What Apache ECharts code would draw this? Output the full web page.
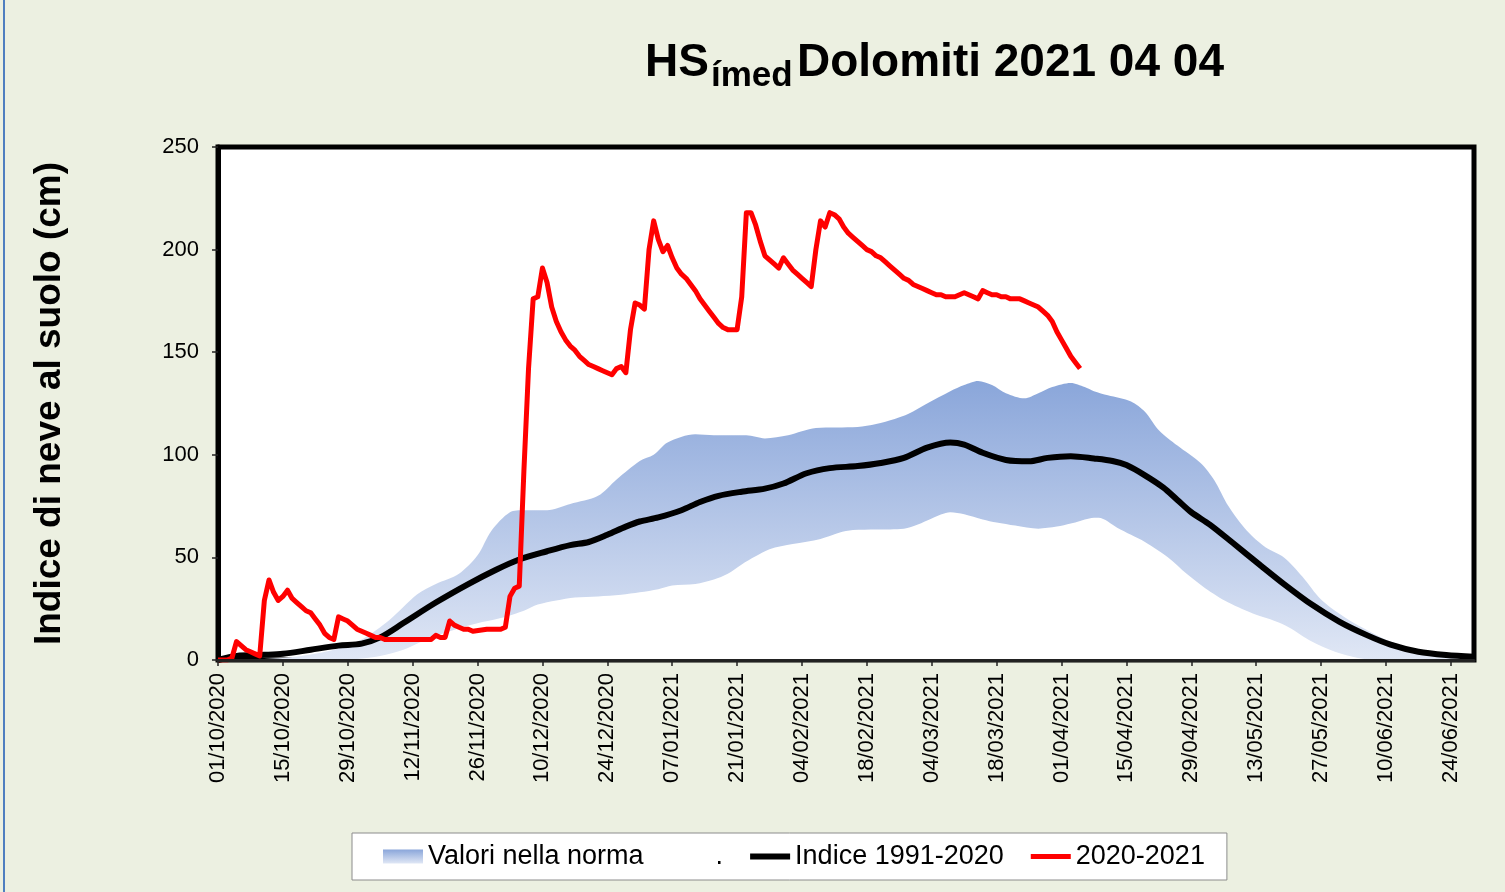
<!DOCTYPE html>
<html>
<head>
<meta charset="utf-8">
<script src="https://cdn.jsdelivr.net/npm/echarts/dist/echarts.min.js"></script>
<style>
  html, body { margin: 0; padding: 0; background: #ecf0e1; }
  #chart { width: 1505px; height: 892px; }
</style>
</head>
<body>
<div id="chart"></div>
<script>
// giorni dal 01/10/2020 (indice 0) fino al 29/06/2021 (indice 271)
const tickLabels = [
  "01/10/2020", "15/10/2020", "29/10/2020", "12/11/2020", "26/11/2020",
  "10/12/2020", "24/12/2020", "07/01/2021", "21/01/2021", "04/02/2021",
  "18/02/2021", "04/03/2021", "18/03/2021", "01/04/2021", "15/04/2021",
  "29/04/2021", "13/05/2021", "27/05/2021", "10/06/2021", "24/06/2021",
];

// limite superiore della norma [giorno, cm]
const normaSup = [
  [0, 0], [10, 0.5], [18, 2], [25, 5], [31, 10], [37, 19.5], [43, 32], [47, 37],
  [52, 42], [56, 51], [59, 63], [63, 72], [66, 73], [71, 73], [76, 76], [82, 80],
  [86, 88], [91, 97], [94, 100], [97, 106], [103, 110], [107, 109.5], [114, 109.5],
  [118, 108], [123, 109.5], [129, 113], [138, 113.5], [142, 115], [146, 117.5],
  [149, 120], [153, 125], [158, 131], [161, 134], [164, 136], [167, 134], [170, 130],
  [174, 127.5], [177, 130], [180, 133], [184, 135], [187, 133], [189, 131],
  [192, 129], [197, 126], [200, 121], [203, 112], [207, 104.5], [212, 96],
  [215, 87.5], [218, 75], [222, 63], [226, 55], [230, 50], [234, 40.6], [238, 29.5],
  [243, 21], [248, 14.5], [253, 9], [261, 3.3], [268, 0.8], [271, 0],
];

// limite inferiore della norma [giorno, cm]
const normaInf = [
  [0, 0], [25, 0], [30, 0.5], [35, 2], [40, 5], [44, 9], [48, 12.5], [52, 15.5],
  [57, 18.5], [62, 21], [66, 24], [69, 27], [73, 29], [77, 30.5], [82, 31],
  [87, 31.8], [91, 33], [95, 34.5], [98, 36.3], [103, 37], [107, 39.2], [110, 42],
  [113, 46.6], [116, 50.5], [119, 54], [124, 56.5], [130, 59], [134, 62],
  [137, 63.3], [142, 63.6], [148, 64], [151, 66], [154, 69], [158, 72], [161, 71],
  [165, 68.5], [168, 67], [172, 65.5], [177, 64], [181, 65], [184, 66.5], [188, 69],
  [190, 69.3], [194, 64.5], [197, 61], [200, 57.5], [205, 50], [209, 42], [213, 35],
  [218, 28], [224, 22], [228, 19], [231, 16], [236, 9], [241, 4], [246, 1],
  [250, 0], [271, 0],
];

// indice 1991-2020 [giorno, cm]
const indice = [
  [0, 0], [4, 2], [10, 2.5], [14, 3], [20, 5], [26, 7], [31, 8], [35, 11], [40, 18],
  [47, 28], [54, 37], [60, 44], [65, 49], [71, 53], [76, 56], [80, 57.5], [84, 61],
  [88, 65], [91, 67.5], [95, 69.5], [100, 73], [104, 77], [108, 80], [113, 82],
  [118, 83.5], [122, 86], [127, 91], [132, 93.5], [138, 94.5], [143, 96],
  [148, 98.5], [153, 103.5], [158, 106], [161, 105], [165, 101], [170, 97.5],
  [175, 96.8], [179, 98.5], [184, 99.3], [189, 98.2], [193, 97], [196, 95],
  [200, 90], [204, 84], [207, 78], [210, 72], [214, 66], [219, 57], [225, 46],
  [230, 37], [236, 27], [242, 18.6], [248, 12], [253, 7.5], [259, 4], [265, 2.4],
  [271, 1.6],
];

// stagione 2020-2021 [giorno, cm]
const stagione = [
  [0, 0], [1, 0], [2, 0], [3, 1], [4, 9], [5, 7], [6, 5], [7, 4], [8, 3], [9, 2],
  [10, 29], [11, 39], [12, 33], [13, 29], [14, 31], [15, 34], [16, 30], [17, 28],
  [18, 26], [19, 24], [20, 23], [21, 20], [22, 17], [23, 13], [24, 11], [25, 10],
  [26, 21], [27, 20], [28, 19], [29, 17], [30, 15], [31, 14], [32, 13], [33, 12],
  [34, 11], [35, 11], [36, 10], [40, 10], [44, 10], [46, 10], [47, 12], [48, 11],
  [49, 11], [50, 19], [51, 17], [52, 16], [53, 15], [54, 15], [55, 14], [58, 15],
  [61, 15], [62, 16], [63, 31], [64, 35], [65, 36], [66, 92], [67, 142], [68, 176],
  [69, 177], [70, 191], [71, 184], [72, 172], [73, 165], [74, 160], [75, 156],
  [76, 153], [77, 151], [78, 148], [79, 146], [80, 144], [81, 143], [82, 142],
  [83, 141], [84, 140], [85, 139], [86, 142], [87, 143], [88, 140], [89, 161],
  [90, 174], [91, 173], [92, 171], [93, 200], [94, 214], [95, 205], [96, 199],
  [97, 202], [98, 196], [99, 191], [100, 188], [101, 186], [102, 183], [103, 180],
  [104, 176], [105, 173], [106, 170], [107, 167], [108, 164], [109, 162], [110, 161],
  [111, 161], [112, 161], [113, 177], [114, 218], [115, 218], [116, 212], [117, 204],
  [118, 197], [119, 195], [120, 193], [121, 191], [122, 196], [123, 193], [124, 190],
  [125, 188], [126, 186], [127, 184], [128, 182], [129, 200], [130, 214], [131, 211],
  [132, 218], [133, 217], [134, 215], [135, 211], [136, 208], [137, 206], [138, 204],
  [139, 202], [140, 200], [141, 199], [142, 197], [143, 196], [144, 194], [145, 192],
  [146, 190], [147, 188], [148, 186], [149, 185], [150, 183], [151, 182], [152, 181],
  [153, 180], [154, 179], [155, 178], [156, 178], [157, 177], [158, 177], [159, 177],
  [160, 178], [161, 179], [162, 178], [163, 177], [164, 176], [165, 180], [166, 179],
  [167, 178], [168, 178], [169, 177], [170, 177], [171, 176], [172, 176], [173, 176],
  [174, 175], [175, 174], [176, 173], [177, 172], [178, 170], [179, 168], [180, 165],
  [181, 160], [182, 156], [183, 152], [184, 148], [185, 145], [186, 142],
];

const FONT = "'Liberation Sans', Arial, sans-serif";

var myChart = echarts.init(document.getElementById("chart"));

var bandColor = new echarts.graphic.LinearGradient(0, 0, 0, 1, [
  { offset: 0, color: "#8aa6da" },
  { offset: 1, color: "#e0e7f5" },
]);

let options = {
  backgroundColor: "#ecf0e1",
  animation: false,
  // filo azzurro sul bordo sinistro della figura
  graphic: [
    {
      type: "rect",
      left: 3,
      top: 0,
      shape: { width: 2, height: 892 },
      style: { fill: "#4f7fc0" },
    },
  ],
  title: [
    {
      text: "HS",
      left: 645,
      top: 40,
      padding: 0,
      textStyle: { fontFamily: FONT, fontSize: 46, fontWeight: "bold", color: "#000" },
    },
    {
      text: "ímed",
      left: 711,
      top: 59,
      padding: 0,
      textStyle: { fontFamily: FONT, fontSize: 35, fontWeight: "bold", color: "#000" },
    },
    {
      text: "Dolomiti 2021 04 04",
      left: 797,
      top: 40,
      padding: 0,
      textStyle: { fontFamily: FONT, fontSize: 46, fontWeight: "bold", color: "#000" },
    },
  ],
  legend: {
    left: 352,
    top: 833,
    orient: "horizontal",
    backgroundColor: "#ffffff",
    borderColor: "#8c8c8c",
    borderWidth: 1,
    borderRadius: 0,
    padding: [10, 22, 10, 31],
    itemWidth: 40,
    itemHeight: 14,
    itemGap: 27,
    selectedMode: false,
    textStyle: { fontFamily: FONT, fontSize: 27, color: "#000" },
    data: [
      { name: "Valori nella norma", icon: "rect", itemStyle: { color: bandColor } },
      { name: ".", icon: "none" },
      { name: "Indice 1991-2020", icon: "path://M0,0H40V6H0Z" },
      { name: "2020-2021", icon: "path://M0,0H40V5H0Z" },
    ],
  },
  grid: {
    left: 218,
    right: 31,
    top: 147,
    bottom: 232,
    show: true,
    backgroundColor: "#ffffff",
    borderColor: "#000000",
    borderWidth: 5,
  },
  xAxis: {
    type: "value",
    min: 0,
    max: 271,
    interval: 14,
    z: 10,
    axisLine: { show: true, lineStyle: { color: "#222", width: 3 } },
    axisTick: { show: true, length: 6, lineStyle: { color: "#222", width: 1.5 } },
    splitLine: { show: false },
    axisLabel: {
      rotate: 90,
      margin: 13,
      fontFamily: FONT,
      fontSize: 22,
      color: "#000",
      showMaxLabel: false,
      formatter: function (v) {
        return v % 14 === 0 ? tickLabels[v / 14] || "" : "";
      },
    },
  },
  yAxis: {
    type: "value",
    min: 0,
    max: 250,
    interval: 50,
    name: "Indice di neve al suolo (cm)",
    nameLocation: "middle",
    nameRotate: 90,
    nameGap: 150,
    nameTextStyle: { fontFamily: FONT, fontSize: 37, fontWeight: "bold", color: "#000" },
    axisLine: { show: true, lineStyle: { color: "#000", width: 5 } },
    axisTick: { show: true, length: 6, lineStyle: { color: "#222", width: 1.5 } },
    splitLine: { show: false },
    axisLabel: { fontFamily: FONT, fontSize: 22, color: "#000", margin: 19 },
  },
  series: [
    {
      name: "Valori nella norma",
      type: "line",
      data: normaSup,
      smooth: 0.3,
      symbol: "none",
      z: 1,
      lineStyle: { width: 0, color: "#8aa6da" },
      itemStyle: { color: "#8aa6da" },
      areaStyle: { color: bandColor, opacity: 1 },
    },
    {
      name: ".",
      type: "line",
      data: normaInf,
      smooth: 0.3,
      symbol: "none",
      z: 2,
      lineStyle: { width: 0, color: "#ffffff" },
      itemStyle: { color: "#ffffff" },
      areaStyle: { color: "#ffffff", opacity: 1 },
    },
    {
      name: "Indice 1991-2020",
      type: "line",
      data: indice,
      smooth: 0.3,
      symbol: "none",
      z: 3,
      lineStyle: { width: 6, color: "#000000" },
      itemStyle: { color: "#000000" },
    },
    {
      name: "2020-2021",
      type: "line",
      data: stagione,
      symbol: "none",
      z: 4,
      lineStyle: { width: 5, color: "#ff0000", join: "round" },
      itemStyle: { color: "#ff0000" },
    },
  ],
};
myChart.setOption(options);
</script>
</body>
</html>
